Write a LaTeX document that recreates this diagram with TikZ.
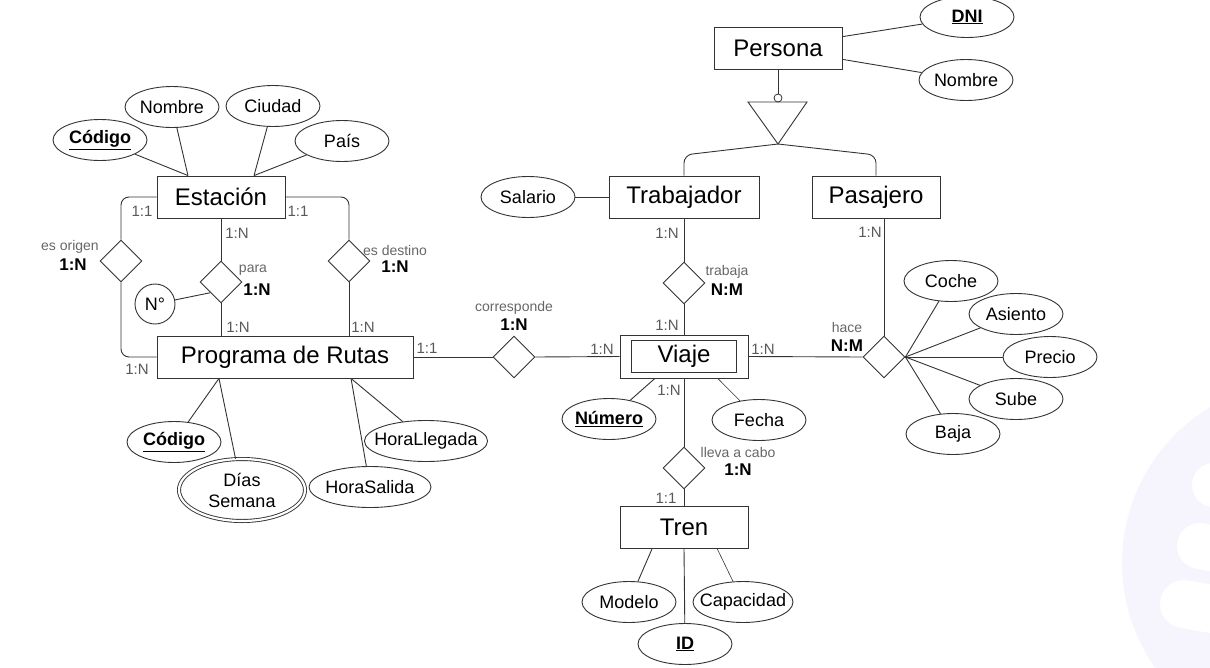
\documentclass[tikz,border=0pt]{standalone}
\usepackage{fontspec}
\setmainfont{Liberation Sans}
\usepackage{tikz}
\usetikzlibrary{shapes.geometric}

\definecolor{linea}{HTML}{333333}
\definecolor{marca}{HTML}{F6F5FD}

\begin{document}
\begin{tikzpicture}[x=1pt, y=-1pt, line width=0.9pt, color=linea,
    entidad/.style={draw, rectangle, minimum width=128pt, minimum height=42pt, inner sep=0pt, text=black, font=\fontsize{24}{28}\selectfont},
    relacion/.style={draw, diamond, minimum width=42pt, minimum height=42pt, inner sep=0pt},
    atributo/.style={draw, ellipse, minimum width=94pt, minimum height=41pt, inner xsep=-8pt, inner ysep=0pt, text=black, font=\fontsize{18}{21}\selectfont},
    card/.style={inner sep=0pt, text=black!65, font=\fontsize{15}{17}\selectfont},
    rol/.style={inner sep=0pt, text=black!60, font=\fontsize{14}{16}\selectfont},
    cardb/.style={inner sep=0pt, text=black, font=\fontsize{17}{19}\bfseries}]
    \useasboundingbox (0, 0) rectangle (1210, 667);

    % draw watermark
    \fill[color=marca] (1304, 563) circle (182);
    \draw[color=white, line width=44pt, line cap=round] (1214, 485) -- (1300, 500);
    \draw[color=white, line width=46pt, line cap=round] (1200, 546) -- (1300, 564);
    \draw[color=white, line width=48pt, line cap=round] (1184, 604) -- (1300, 625);

    % draw entities
    \node[entidad] (persona) at (778, 48) {Persona};
    \node[entidad, minimum width=150pt] (trabajador) at (684, 197) {Trabajador};
    \node[entidad] (pasajero) at (876, 197) {Pasajero};
    \node[entidad] (estacion) at (221, 197) {Estación};
    \node[entidad, minimum width=256pt] (programa) at (285, 357) {Programa de Rutas};
    \node[entidad, minimum height=43pt] (viaje) at (684, 356.5) {};
    \node[entidad, minimum width=105pt, minimum height=32pt] (viajein) at (viaje.center) {Viaje};
    \node[entidad] (tren) at (684, 527) {Tren};

    % draw relationships
    \node[relacion] (esorigen) at (121, 261) {};
    \node[relacion] (para) at (221, 282) {};
    \node[relacion] (esdestino) at (349, 261) {};
    \node[relacion] (corresponde) at (514, 357) {};
    \node[relacion] (trabaja) at (684, 283) {};
    \node[relacion] (hace) at (884, 357) {};
    \node[relacion] (llevaacabo) at (684, 468) {};

    % draw attributes
    \node[atributo] (codigoE) at (100, 140) {\underline{\textbf{Código}}};
    \node[atributo] (nombreE) at (172, 107) {Nombre};
    \node[atributo] (ciudad) at (273, 106) {Ciudad};
    \node[atributo] (pais) at (342, 141) {País};
    \node[atributo, ellipse, minimum width=40pt, minimum height=40pt] (nro) at (155, 304) {N°};
    \node[atributo] (codigoP) at (174, 442) {\underline{\textbf{Código}}};
    \node[atributo, double, double distance=2.2pt, minimum width=126pt, minimum height=62pt, align=center] (dias) at (242, 490) {Días\\Semana};
    \node[atributo, minimum width=122pt] (horasalida) at (370, 487) {HoraSalida};
    \node[atributo, minimum width=122pt] (horallegada) at (426, 441) {HoraLlegada};
    \node[atributo] (salario) at (528, 197) {Salario};
    \node[atributo] (dni) at (967, 17) {\underline{\textbf{DNI}}};
    \node[atributo] (nombreP) at (966, 80) {Nombre};
    \node[atributo] (numero) at (609, 419) {\underline{\textbf{Número}}};
    \node[atributo] (fecha) at (759, 420) {Fecha};
    \node[atributo] (coche) at (951, 281) {Coche};
    \node[atributo] (asiento) at (1016, 314) {Asiento};
    \node[atributo] (precio) at (1050, 357) {Precio};
    \node[atributo] (sube) at (1016, 399) {Sube};
    \node[atributo] (baja) at (953, 434) {Baja};
    \node[atributo] (modelo) at (629, 602) {Modelo};
    \node[atributo, minimum width=100pt] (capacidad) at (743, 602) {Capacidad};
    \node[atributo] (id) at (685, 644) {\underline{\textbf{ID}}};

    % draw attribute links
    \draw (codigoE) -- (estacion.147);
    \draw (nombreE) -- (estacion.147);
    \draw (ciudad) -- (estacion.33);
    \draw (pais) -- (estacion.33);
    \draw (nro) -- (para.south west);
    \draw (codigoP) -- (programa.198);
    \draw (dias) -- (programa.198);
    \draw (horasalida) -- (programa.342);
    \draw (horallegada) -- (programa.342);
    \draw (salario) -- (trabajador);
    \draw (dni) -- (persona.10);
    \draw (nombreP) -- (persona.350);
    \draw (numero) -- (viaje.217);
    \draw[line width=0.6pt] (fecha) -- (viaje.327);
    \draw (modelo) -- (tren.214);
    \draw[line width=0.6pt] (capacidad) -- (tren.327);
    \draw (id) -- (tren.south);
    \foreach \a in {coche, asiento, precio, sube, baja}
        \draw (hace.east) -- (\a);

    % draw relationship links
    \draw[rounded corners=8pt] (estacion.west) -| (esorigen.north);
    \draw[rounded corners=8pt] (esorigen.south) |- (programa.west);
    \draw[rounded corners=8pt] (estacion.east) -| (esdestino.north);
    \draw (esdestino.south) -- (esdestino.south |- programa.north);
    \draw (estacion.south) -- (para.north);
    \draw (para.south) -- (para.south |- programa.north);
    \draw (programa.east) -- (corresponde.west);
    \draw (corresponde.east) -- (viaje.west);
    \draw (trabajador.south) -- (trabaja.north);
    \draw (trabaja.south) -- (viaje.north);
    \draw (viaje.east) -- (hace.west);
    \draw (hace.north) -- (hace.north |- pasajero.south);
    \draw (viaje.south) -- (llevaacabo.north);
    \draw (llevaacabo.south) -- (tren.north);

    % draw generalisation
    \node[draw, circle, minimum size=8pt, inner sep=0pt, line width=0.8pt] (isacirc) at (778, 98) {};
    \coordinate (isa) at (778, 144);
    \coordinate (isabar) at (778, 155);
    \draw (persona.south) -- (isacirc.north);
    \draw (748, 102) -- (807, 102) -- (isa) -- cycle;
    \draw[rounded corners=8pt] (isa) -- (trabajador.north |- isabar) -- (trabajador.north);
    \draw[rounded corners=8pt] (isa) -- (pasajero.north |- isabar) -- (pasajero.north);

    % draw labels
    \node[card] (cEo) at (142, 211) {1:1};
    \node[card] (cEd) at (298, 211) {1:1};
    \node[rol] (rOrigen) at (70, 247) {es origen};
    \node[cardb] (bOrigen) at (73, 265) {1:N};
    \node[rol] (rDestino) at (395, 250) {es destino};
    \node[cardb] (bDestino) at (395, 267) {1:N};
    \node[card] (cEp) at (237, 233) {1:N};
    \node[rol] (rPara) at (253, 270) {para};
    \node[cardb] (bPara) at (257, 290) {1:N};
    \node[card] (cPp) at (238, 327) {1:N};
    \node[card] (cPd) at (363, 327) {1:N};
    \node[card] (cPo) at (137, 369) {1:N};
    \node[card] (cPc) at (427, 348) {1:1};
    \node[rol] (rCorr) at (514, 308) {corresponde};
    \node[cardb] (bCorr) at (514, 325) {1:N};
    \node[card] (cVc) at (602, 349) {1:N};
    \node[card] (cTt) at (667, 233) {1:N};
    \node[rol] (rTrab) at (727, 272) {trabaja};
    \node[cardb] (bTrab) at (727, 290) {N:M};
    \node[card] (cVt) at (667, 325) {1:N};
    \node[card] (cVh) at (763, 349) {1:N};
    \node[card] (cVl) at (669, 390) {1:N};
    \node[rol] (rLleva) at (738, 452) {lleva a cabo};
    \node[cardb] (bLleva) at (738, 470) {1:N};
    \node[card] (cTl) at (666, 498) {1:1};
    \node[card] (cPh) at (870, 232) {1:N};
    \node[rol] (rHace) at (847, 327) {hace};
    \node[cardb] (bHace) at (847, 346) {N:M};

\end{tikzpicture}
\end{document}
